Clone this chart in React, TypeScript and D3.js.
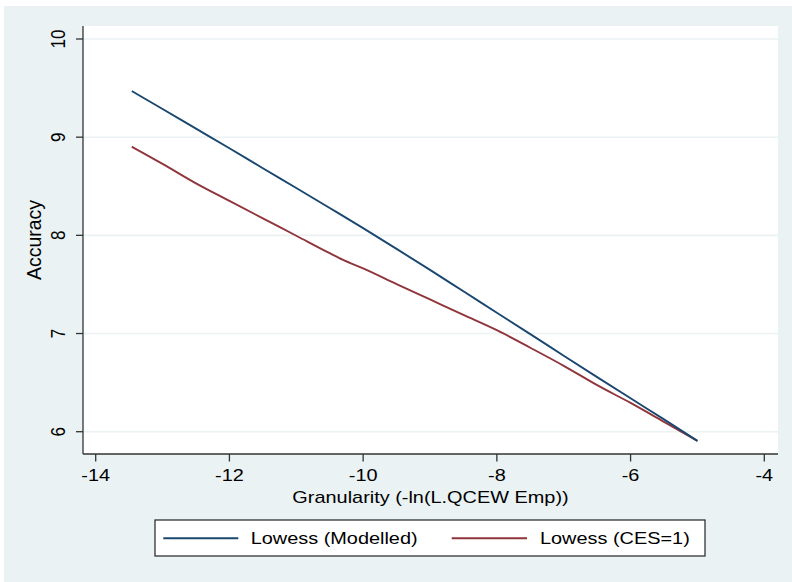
import React from "react";
import * as d3 from "d3";

const xTicks = [-14, -12, -10, -8, -6, -4];
const yTicks = [6, 7, 8, 9, 10];

const modelledX = [-13.46, -13, -12.5, -12, -11.5, -11, -10.5, -10, -9.5, -9, -8.5, -8, -7.5, -7, -6.5, -6, -5.5, -5];
const modelledY = [9.47, 9.287, 9.087, 8.887, 8.684, 8.482, 8.279, 8.074, 7.862, 7.648, 7.43, 7.212, 6.994, 6.774, 6.556, 6.34, 6.125, 5.906];

const cesX = [-13.46, -13, -12.5, -12, -11.5, -11, -10.5, -10.3, -10, -9.5, -9, -8.5, -8, -7.5, -7, -6.5, -6, -5.5, -5];
const cesY = [8.903, 8.728, 8.53, 8.351, 8.173, 7.996, 7.818, 7.75, 7.664, 7.504, 7.347, 7.19, 7.034, 6.855, 6.671, 6.474, 6.293, 6.1, 5.906];

const seriesNames = ["Lowess (Modelled)", "Lowess (CES=1)"];
const seriesColors = ["#1a476f", "#90353b"];

const FONT = "'Liberation Sans', Arial, Helvetica, sans-serif";
const SX = 1.17;
const FS = 17;

export default function App() {
  const W = 792, H = 582;
  const left = 83, right = 778, top = 26, bottom = 454;
  const x = d3.scaleLinear().domain([-14, -4]).range([95.7, 764.3]);
  const y = d3.scaleLinear().domain([6, 10]).range([431.7, 39]);

  const line = d3
    .line<[number, number]>()
    .x((d) => x(d[0]))
    .y((d) => y(d[1]))
    .curve(d3.curveMonotoneX);

  const modelled: [number, number][] = modelledX.map((v, i) => [v, modelledY[i]]);
  const ces: [number, number][] = cesX.map((v, i) => [v, cesY[i]]);

  const txt = (
    tx: number,
    ty: number,
    s: string,
    anchor: string = "middle",
    rotate = false,
    fs = FS,
    sx = SX
  ) => (
    <text
      key={s + tx + ty}
      transform={`translate(${tx},${ty}) scale(${sx},1)${rotate ? " rotate(-90)" : ""}`}
      textAnchor={anchor}
      fontFamily={FONT}
      fontSize={fs}
      fill="#000"
    >
      {s}
    </text>
  );

  return (
    <div style={{ position: "absolute", left: 0, top: 0 }}>
      <svg width={W} height={H} style={{ display: "block" }}>
        <rect x={0} y={0} width={W} height={H} fill="#ffffff" />
        <rect x={4} y={6} width={W - 4} height={H - 6} fill="#eaf2f3" />
        <rect x={left} y={top} width={right - left} height={bottom - top} fill="#ffffff" />
        {yTicks.map((t) => (
          <line key={"g" + t} x1={left} x2={right} y1={y(t)} y2={y(t)} stroke="#eaf2f3" strokeWidth={1.6} />
        ))}
        <path d={line(ces) || ""} fill="none" stroke={seriesColors[1]} strokeWidth={1.9} />
        <path d={line(modelled) || ""} fill="none" stroke={seriesColors[0]} strokeWidth={1.9} />
        <line x1={left} x2={left} y1={top} y2={bottom} stroke="#333" strokeWidth={1.3} />
        <line x1={left} x2={right} y1={bottom} y2={bottom} stroke="#333" strokeWidth={1.3} />
        {yTicks.map((t) => (
          <line key={"yt" + t} x1={left - 7} x2={left} y1={y(t)} y2={y(t)} stroke="#333" strokeWidth={1.3} />
        ))}
        {xTicks.map((t) => (
          <line key={"xt" + t} x1={x(t)} x2={x(t)} y1={bottom} y2={bottom + 7.5} stroke="#333" strokeWidth={1.3} />
        ))}
        {yTicks.map((t) => txt(65, y(t), String(t), "middle", true))}
        {xTicks.map((t) => txt(x(t), 481, String(t), "middle"))}
        {txt((left + right) / 2, 502.5, "Granularity (-ln(L.QCEW Emp))", "middle")}
        {txt(41, (top + bottom) / 2, "Accuracy", "middle", true, 19.5, 1)}
        <rect x={155} y={520} width={550} height={36} fill="#ffffff" stroke="#222" strokeWidth={1.2} />
        <line x1={163.3} x2={238.3} y1={538.3} y2={538.3} stroke={seriesColors[0]} strokeWidth={1.9} />
        {txt(250.7, 544, seriesNames[0], "start")}
        <line x1={451.7} x2={527} y1={538.3} y2={538.3} stroke={seriesColors[1]} strokeWidth={1.9} />
        {txt(540, 544, seriesNames[1], "start")}
      </svg>
    </div>
  );
}
